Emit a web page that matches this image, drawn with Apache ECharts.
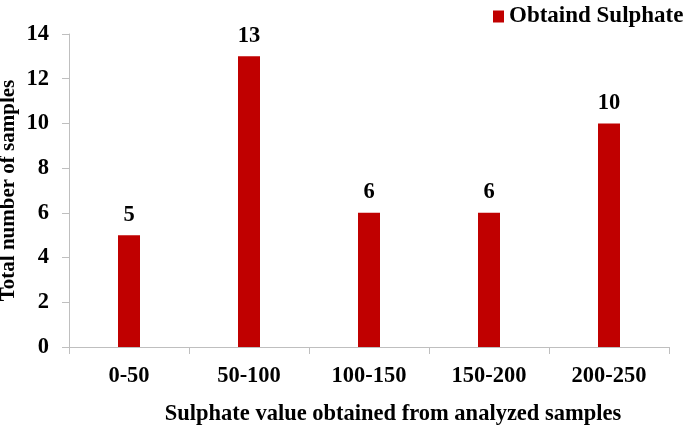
<!DOCTYPE html>
<html>
<head>
<meta charset="utf-8">
<script src="https://cdn.jsdelivr.net/npm/echarts@6/dist/echarts.min.js"></script>
<style>
html,body{margin:0;padding:0;background:#fff;}
#chart{width:685px;height:429px;}
</style>
</head>
<body>
<div id="chart"></div>
<script>
const categories = ['0-50', '50-100', '100-150', '150-200', '200-250'];
const sulphateCounts = [5, 13, 6, 6, 10];
const seriesName = 'Obtaind Sulphate';
const xAxisTitle = 'Sulphate value obtained from analyzed samples';
const yAxisTitle = 'Total number of samples';

const FONT = "'Liberation Serif', 'Times New Roman', serif";
const FS = 22.5;
const chart = echarts.init(document.getElementById('chart'), null, {renderer: 'canvas'});
chart.setOption({
  animation: false,
  backgroundColor: '#ffffff',
  textStyle: {fontFamily: FONT, fontWeight: 'bold', color: '#000'},
  legend: {
    left: 488, top: 0,
    icon: 'rect', itemWidth: 11, itemHeight: 12, itemGap: 10,
    data: [seriesName],
    textStyle: {fontFamily: FONT, fontWeight: 'bold', fontSize: 23, color: '#000', padding: [0,0,0,0]}
  },
  grid: {left: 69, right: 16, top: 34, bottom: 82, containLabel: false, outerBoundsMode: 'none'},
  xAxis: {
    type: 'category',
    data: categories,
    name: xAxisTitle,
    nameLocation: 'middle',
    nameGap: 56,
    nameMoveOverlap: false,
    nameTextStyle: {fontFamily: FONT, fontWeight: 'bold', fontSize: FS, color: '#000', padding: [0,0,0,48]},
    axisLine: {lineStyle: {color: '#BFBFBF', width: 1}},
    axisTick: {show: true, length: 7, lineStyle: {color: '#BFBFBF'}},
    axisLabel: {fontFamily: FONT, fontWeight: 'bold', fontSize: FS, color: '#000', margin: 18}
  },
  yAxis: {
    type: 'value',
    min: 0, max: 14, interval: 2,
    name: yAxisTitle,
    nameLocation: 'middle',
    nameGap: 50,
    nameRotate: 90,
    nameMoveOverlap: false,
    nameTextStyle: {fontFamily: FONT, fontWeight: 'bold', fontSize: 21, color: '#000'},
    axisLine: {show: true, lineStyle: {color: '#BFBFBF', width: 1}},
    axisTick: {show: true, length: 7, lineStyle: {color: '#BFBFBF'}},
    splitLine: {show: false},
    axisLabel: {fontFamily: FONT, fontWeight: 'bold', fontSize: FS, color: '#000', margin: 20}
  },
  series: [{
    name: seriesName,
    type: 'bar',
    data: sulphateCounts,
    barWidth: 22,
    itemStyle: {color: '#C00000'},
    label: {
      show: true, position: 'top', distance: 9,
      fontFamily: FONT, fontWeight: 'bold', fontSize: FS, color: '#000'
    }
  }]
});
</script>
</body>
</html>
